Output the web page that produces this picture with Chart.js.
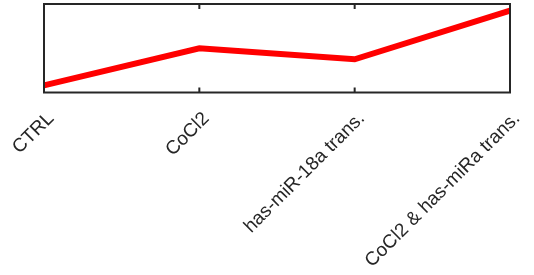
<!DOCTYPE html>
<html>
<head>
<meta charset="utf-8">
<script src="https://cdn.jsdelivr.net/npm/chart.js@4/dist/chart.umd.min.js"></script>
<style>
html,body{margin:0;padding:0;background:#fff;}
#wrap{width:534px;height:275px;position:relative;}
</style>
</head>
<body>
<div id="wrap"><canvas id="c" width="534" height="275"></canvas></div>
<script>
const categories = ["CTRL", "CoCl2", "has-miR-18a trans.", "CoCl2 & has-miRa trans."];
const values = [0.08, 0.50, 0.375, 0.925];
const yMin = 0;
const yMax = 1;

const axisColor = '#262626';

const boxPlugin = {
  id: 'boxPlugin',
  afterDatasetsDraw(chart) {
    const {ctx, chartArea: a, scales: {x}} = chart;
    ctx.save();
    ctx.strokeStyle = axisColor;
    ctx.lineWidth = 2;
    ctx.beginPath();
    for (let i = 0; i < categories.length; i++) {
      const px = x.getPixelForValue(i);
      ctx.moveTo(px, a.top); ctx.lineTo(px, a.top + 5);
      ctx.moveTo(px, a.bottom); ctx.lineTo(px, a.bottom - 5);
    }
    ctx.stroke();
    ctx.strokeRect(a.left, a.top, a.right - a.left, a.bottom - a.top);
    ctx.restore();
  }
};

new Chart(document.getElementById('c'), {
  type: 'line',
  data: {
    labels: categories,
    datasets: [{
      data: values,
      borderColor: '#ff0000',
      borderWidth: 6,
      pointRadius: 0,
      tension: 0,
      fill: false,
      clip: false
    }]
  },
  options: {
    responsive: false,
    animation: false,
    devicePixelRatio: 1,
    layout: {padding: {left: 0, right: 24, top: 4, bottom: 0}},
    plugins: {legend: {display: false}, tooltip: {enabled: false}},
    scales: {
      x: {
        type: 'category',
        offset: false,
        grid: {display: false, drawTicks: false},
        border: {display: false},
        ticks: {
          autoSkip: false,
          maxRotation: 45,
          minRotation: 45,
          padding: 15,
          labelOffset: 7,
          color: axisColor,
          font: {family: '"Liberation Sans", Arial, sans-serif', size: 19}
        },
        afterFit(s) { s.height = 182.5; s.paddingLeft = 0; s.paddingRight = 0; }
      },
      y: {
        min: yMin,
        max: yMax,
        grid: {display: false, drawTicks: false},
        border: {display: false},
        ticks: {display: false},
        afterFit(s) { s.width = 44; s.paddingTop = 0; s.paddingBottom = 0; }
      }
    }
  },
  plugins: [boxPlugin]
});
</script>
</body>
</html>
